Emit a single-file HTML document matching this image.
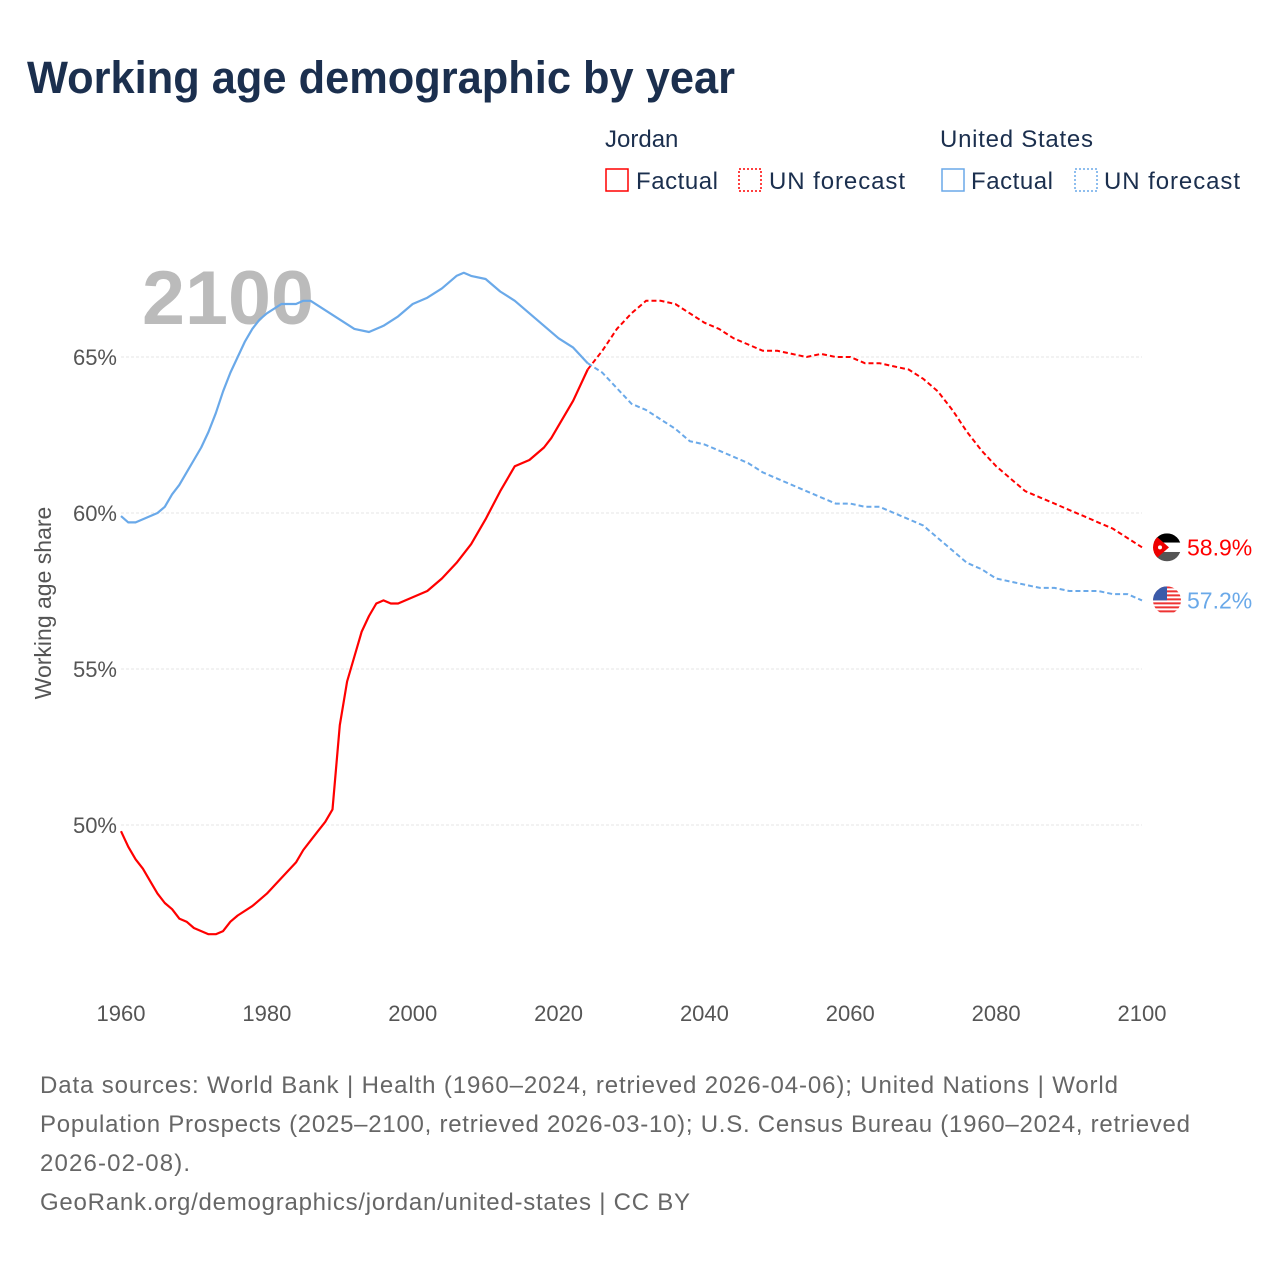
<!DOCTYPE html>
<html><head><meta charset="utf-8"><style>
body{margin:0;background:#fff;font-family:"Liberation Sans",sans-serif}
#wrap{position:relative;width:1280px;height:1280px;overflow:hidden}
</style></head><body>
<div id="wrap">
<svg id="chart" width="1280" height="1280" xmlns="http://www.w3.org/2000/svg">
<defs>
<clipPath id="c1"><circle cx="1167" cy="0" r="14" id="c1c"/></clipPath>
<clipPath id="c2"><circle cx="1167" cy="0" r="14" id="c2c"/></clipPath>
</defs>
<text x="27" y="93" font-size="45" font-weight="bold" fill="#1b2f4e" textLength="708" lengthAdjust="spacingAndGlyphs">Working age demographic by year</text>
<g font-size="24" fill="#1b2f4e">
<text x="605" y="147">Jordan</text>
<rect x="606" y="169" width="22" height="22" fill="none" stroke="#f00" stroke-width="1.5"/>
<text x="636" y="189" textLength="82">Factual</text>
<rect x="739" y="169" width="22" height="22" fill="none" stroke="#f00" stroke-width="1.5" stroke-dasharray="2,2"/>
<text x="769" y="189" textLength="136">UN forecast</text>
<text x="940" y="147" textLength="153">United States</text>
<rect x="942" y="169" width="22" height="22" fill="none" stroke="#6aa9e9" stroke-width="1.5"/>
<text x="971" y="189" textLength="82">Factual</text>
<rect x="1075" y="169" width="22" height="22" fill="none" stroke="#6aa9e9" stroke-width="1.5" stroke-dasharray="2,2"/>
<text x="1104" y="189" textLength="136">UN forecast</text>
</g>
<text x="142" y="324" font-size="76" font-weight="bold" fill="#bbb" textLength="172" lengthAdjust="spacingAndGlyphs">2100</text>
<text transform="translate(51,603) rotate(-90)" text-anchor="middle" font-size="23" fill="#555">Working age share</text>
<g id="grid"></g><g id="series"></g><g id="ticks"></g>
<g font-size="24" fill="#666">
<text x="40" y="1093" textLength="1078">Data sources: World Bank | Health (1960–2024, retrieved 2026-04-06); United Nations | World</text>
<text x="40" y="1132" textLength="1150">Population Prospects (2025–2100, retrieved 2026-03-10); U.S. Census Bureau (1960–2024, retrieved</text>
<text x="40" y="1171" textLength="150">2026-02-08).</text>
<text x="40" y="1210" textLength="650">GeoRank.org/demographics/jordan/united-states | CC BY</text>
</g>
</svg>
</div>
<script>
const jordanYears=[1960,1961,1962,1963,1964,1965,1966,1967,1968,1969,1970,1971,1972,1973,1974,1975,1976,1978,1980,1982,1984,1985,1986,1987,1988,1989,1990,1991,1992,1993,1994,1995,1996,1997,1998,2000,2002,2004,2006,2008,2010,2012,2014,2016,2018,2019,2020,2022,2024,2025,2026,2028,2030,2032,2034,2036,2038,2040,2042,2044,2046,2048,2050,2052,2054,2056,2058,2060,2062,2064,2066,2068,2070,2072,2074,2076,2078,2080,2082,2084,2086,2088,2090,2092,2094,2096,2098,2100];
const jordanValues=[49.8,49.3,48.9,48.6,48.2,47.8,47.5,47.3,47.0,46.9,46.7,46.6,46.5,46.5,46.6,46.9,47.1,47.4,47.8,48.3,48.8,49.2,49.5,49.8,50.1,50.5,53.2,54.6,55.4,56.2,56.7,57.1,57.2,57.1,57.1,57.3,57.5,57.9,58.4,59.0,59.8,60.7,61.5,61.7,62.1,62.4,62.8,63.6,64.6,64.9,65.2,65.9,66.4,66.8,66.8,66.7,66.4,66.1,65.9,65.6,65.4,65.2,65.2,65.1,65.0,65.1,65.0,65.0,64.8,64.8,64.7,64.6,64.3,63.9,63.3,62.6,62.0,61.5,61.1,60.7,60.5,60.3,60.1,59.9,59.7,59.5,59.2,58.9];
const usYears=[1960,1961,1962,1964,1965,1966,1967,1968,1969,1970,1971,1972,1973,1974,1975,1976,1977,1978,1979,1980,1982,1984,1985,1986,1988,1990,1992,1994,1996,1998,2000,2002,2004,2006,2007,2008,2010,2012,2014,2016,2018,2020,2022,2024,2026,2028,2030,2032,2034,2036,2038,2040,2042,2044,2046,2048,2050,2052,2054,2056,2058,2060,2062,2064,2066,2068,2070,2072,2074,2076,2078,2080,2082,2084,2086,2088,2090,2094,2096,2098,2100];
const usValues=[59.9,59.7,59.7,59.9,60.0,60.2,60.6,60.9,61.3,61.7,62.1,62.6,63.2,63.9,64.5,65.0,65.5,65.9,66.2,66.4,66.7,66.7,66.8,66.8,66.5,66.2,65.9,65.8,66.0,66.3,66.7,66.9,67.2,67.6,67.7,67.6,67.5,67.1,66.8,66.4,66.0,65.6,65.3,64.8,64.5,64.0,63.5,63.3,63.0,62.7,62.3,62.2,62.0,61.8,61.6,61.3,61.1,60.9,60.7,60.5,60.3,60.3,60.2,60.2,60.0,59.8,59.6,59.2,58.8,58.4,58.2,57.9,57.8,57.7,57.6,57.6,57.5,57.5,57.4,57.4,57.2];
const yTicks=[50,55,60,65];
const xTicks=[1960,1980,2000,2020,2040,2060,2080,2100];
const lastFactual=2024;
const NS="http://www.w3.org/2000/svg";
const X=y=>121+(y-1960)*(1142-121)/140;
const Y=v=>825-(v-50)*31.2;
function mk(tag,attrs,parent){const e=document.createElementNS(NS,tag);for(const k in attrs)e.setAttribute(k,attrs[k]);parent.appendChild(e);return e;}
const grid=document.getElementById('grid'),ticks=document.getElementById('ticks'),series=document.getElementById('series');
yTicks.forEach(v=>{
 const l=mk('line',{x1:121,x2:1142,y1:Y(v),y2:Y(v),stroke:'#e4e4e4','stroke-width':1,'stroke-dasharray':'3,2'},grid);
 
 
 const t=mk('text',{x:117,y:Y(v)+8,'text-anchor':'end','font-size':22,fill:'#555'},ticks);
 t.textContent=v+'%';
 
 
});
xTicks.forEach(y=>{
 const t=mk('text',{x:X(y),y:1021,'text-anchor':'middle','font-size':22,fill:'#555'},ticks);
 t.textContent=y;
 
 
});
function draw(years,vals,color,name){
 const f=[],p=[];
 years.forEach((y,i)=>{const pt=X(y).toFixed(1)+','+Y(vals[i]).toFixed(1);if(y<=lastFactual)f.push(pt);if(y>=lastFactual)p.push(pt);});
 const a=mk('polyline',{points:f.join(' '),fill:'none',stroke:color,'stroke-width':2.2,'stroke-linejoin':'round'},series);
 
 
 const b=mk('polyline',{points:p.join(' '),fill:'none',stroke:color,'stroke-width':2,'stroke-dasharray':'5,3'},series);
 
 
}
draw(jordanYears,jordanValues,'#f00','jordan');
draw(usYears,usValues,'#6aa9e9','us');
function endLabel(v,color,name,kind,clip){
 const y=Y(v);
 document.getElementById(clip+'c').setAttribute('cy',y);
 const g=mk('g',{'clip-path':'url(#'+clip+')'},series);
 
 
 const cx=1167,r=14;
 if(kind==='jo'){
  mk('rect',{x:cx-r,y:y-r,width:2*r,height:r*2/3,fill:'#000'},g);
  mk('rect',{x:cx-r,y:y-r/3,width:2*r,height:r*2/3,fill:'#fff'},g);
  mk('rect',{x:cx-r,y:y+r/3,width:2*r,height:r*2/3,fill:'#555'},g);
  mk('path',{d:`M${cx-r},${y-r} L${cx+2},${y} L${cx-r},${y+r} Z`,fill:'#e00'},g);
  mk('circle',{cx:cx-7,cy:y,r:2,fill:'#fff'},g);
 } else {
  mk('rect',{x:cx-r,y:y-r,width:2*r,height:2*r,fill:'#fff'},g);
  for(let i=0;i<7;i++)mk('rect',{x:cx-r,y:y-r+i*4,width:2*r,height:2,fill:'#e33'},g);
  mk('rect',{x:cx-r,y:y-r,width:r,height:r,fill:'#3b5ba9'},g);
 }
 const t=mk('text',{x:1187,y:y+8,'font-size':23,fill:color},series);
 t.textContent=v.toFixed(1)+'%';
 
 
}
endLabel(jordanValues[jordanValues.length-1],'#f00','jordan','jo','c1');
endLabel(usValues[usValues.length-1],'#6aa9e9','us','us','c2');
</script>
</body></html>
